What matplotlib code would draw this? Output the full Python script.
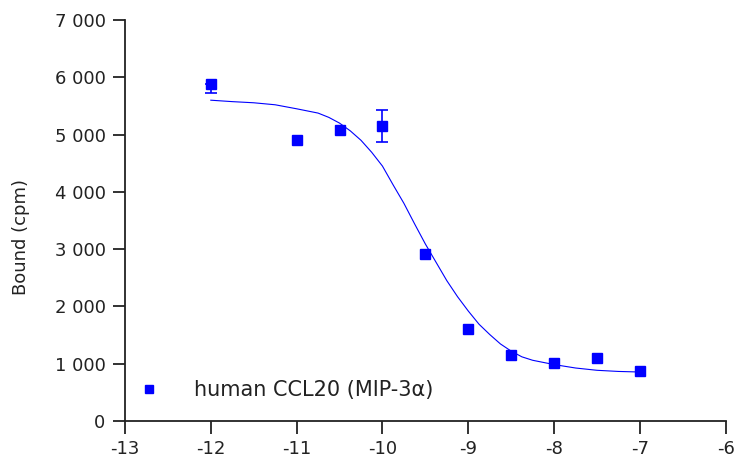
import numpy as np
import matplotlib.pyplot as plt
from matplotlib.ticker import FuncFormatter

plt.rcParams['font.family'] = ['DejaVu Sans']

# datos: log [CCL20] (M) vs. unión (cpm)
log_conc = [-12, -11, -10.5, -10, -9.5, -9, -8.5, -8, -7.5, -7]
bound = [5880, 4900, 5080, 5150, 2910, 1600, 1150, 1010, 1100, 875]
err_low = [155, 0, 0, 280, 0, 0, 0, 0, 0, 0]
err_high = [0, 0, 0, 280, 0, 0, 0, 0, 0, 0]

# curva ajustada
fit_x = [-12.0, -11.75, -11.5, -11.25, -11.0, -10.75, -10.625, -10.5, -10.375,
         -10.25, -10.125, -10.0, -9.875, -9.75, -9.625, -9.5, -9.375, -9.25,
         -9.125, -9.0, -8.875, -8.75, -8.625, -8.5, -8.375, -8.25, -8.0,
         -7.75, -7.5, -7.25, -7.0]
fit_y = [5600, 5575, 5555, 5520, 5450, 5375, 5300, 5200, 5065,
         4900, 4690, 4450, 4120, 3800, 3440, 3090, 2770, 2450,
         2170, 1920, 1690, 1510, 1345, 1220, 1120, 1060, 985,
         925, 885, 865, 855]

x_ticks = [-13, -12, -11, -10, -9, -8, -7, -6]
y_ticks = [0, 1000, 2000, 3000, 4000, 5000, 6000, 7000]

blue = '#0000ff'
dark = '#222222'

fig = plt.figure(figsize=(7.34, 4.75), dpi=100)
ax = fig.add_axes([0.1703, 0.1137, 0.8184, 0.8442])

ax.plot(fit_x, fit_y, color=blue, lw=0.8, zorder=2)

# barras de error solo donde hay error
x_arr = np.array(log_conc)
y_arr = np.array(bound)
lo = np.array(err_low)
hi = np.array(err_high)
m = (lo > 0) | (hi > 0)
ax.errorbar(x_arr[m], y_arr[m], yerr=[lo[m], hi[m]], fmt='none',
            ecolor=blue, elinewidth=1.2, capsize=4, capthick=1.2, zorder=3)
ax.plot(log_conc, bound, 's', color=blue, ms=6.5, mec=blue, zorder=4,
        label='human CCL20 (MIP-3\u03b1)')

ax.set_xlim(-13, -6)
ax.set_ylim(0, 7000)
ax.set_xticks(x_ticks)
ax.set_yticks(y_ticks)
ax.xaxis.set_major_formatter(FuncFormatter(lambda v, p: '%d' % v))
ax.yaxis.set_major_formatter(
    FuncFormatter(lambda v, p: '{:,}'.format(int(v)).replace(',', ' ')))

for s in ['top', 'right']:
    ax.spines[s].set_visible(False)
for s in ['left', 'bottom']:
    ax.spines[s].set_linewidth(1.3)
    ax.spines[s].set_color(dark)

ax.tick_params(direction='out', length=9, width=1.3, color=dark,
               labelsize=13, labelcolor=dark, pad=5)
ax.set_ylabel('Bound (cpm)', fontsize=13, color=dark)
ax.yaxis.set_label_coords(-0.158, 0.459)

leg = ax.legend(loc='center left', bbox_to_anchor=(0.0238, 0.0773),
                frameon=False, fontsize=15, handlelength=0.93,
                handletextpad=1.7, borderpad=0, borderaxespad=0,
                markerscale=0.9, labelcolor=dark)

fig.savefig('out.png', dpi=100)
